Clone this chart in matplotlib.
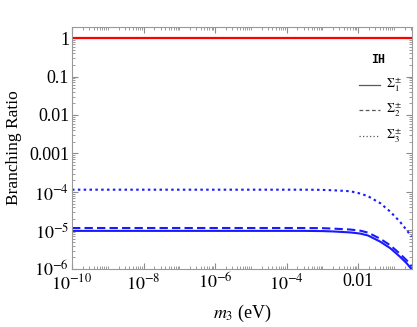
import numpy as np
import matplotlib
matplotlib.use("Agg")
import matplotlib.pyplot as plt
from matplotlib.ticker import FixedLocator, LogLocator, NullFormatter
from matplotlib.lines import Line2D

plt.rcParams['font.family'] = ['Liberation Serif', 'DejaVu Serif']
plt.rcParams['mathtext.fontset'] = 'stix'

# data
m3 = [1e-10, 1e-6, 3.16e-4, 1e-3, 2.0e-3, 6.0e-3, 1.15e-2, 1.9e-2, 4.17e-2, 7.94e-2, 0.148, 0.229, 0.316]
br_sigma1 = [9.77e-6, 9.77e-6, 9.77e-6, 9.66e-6, 9.44e-6, 8.91e-6, 8.32e-6, 7.41e-6, 5.13e-6, 3.47e-6, 2.09e-6, 1.41e-6, 0.98e-6]
br_sigma2 = [1.16e-5, 1.16e-5, 1.16e-5, 1.15e-5, 1.12e-5, 1.06e-5, 9.9e-6, 8.8e-6, 6.1e-6, 4.13e-6, 2.49e-6, 1.68e-6, 1.17e-6]
br_sigma3 = [1.148e-4, 1.148e-4, 1.148e-4, 1.135e-4, 1.109e-4, 1.047e-4, 9.12e-5, 7.76e-5, 5.13e-5, 3.09e-5, 1.70e-5, 1.02e-5, 6.9e-6]
m3_red = [1e-10, 0.32]
br_red = [1.0, 1.0]

x_ticks = [1e-10, 1e-8, 1e-6, 1e-4, 1e-2]
x_ticklabels = [r'$10^{-10}$', r'$10^{-8}$', r'$10^{-6}$', r'$10^{-4}$', '0.01']
y_ticks = [1e-6, 1e-5, 1e-4, 1e-3, 1e-2, 1e-1, 1]
y_ticklabels = [r'$10^{-6}$', r'$10^{-5}$', r'$10^{-4}$', '0.001', '0.01', '0.1', '1']
legend_labels = [r'$\Sigma_1^{\pm}$', r'$\Sigma_2^{\pm}$', r'$\Sigma_3^{\pm}$']

fig = plt.figure(figsize=(4.17, 3.27), dpi=100)
ax = fig.add_axes([0.1727, 0.1774, 0.8150, 0.7400])

blue = '#1a1aff'
ax.plot(m3_red, br_red, color='#ff0000', lw=1.6)
ax.plot(m3, br_sigma1, color=blue, lw=1.5, ls='-')
ax.plot(m3, br_sigma2, color=blue, lw=1.5, ls=(0, (4, 2)))
ax.plot(m3, br_sigma3, color=blue, lw=1.5, ls=(0, (1.2, 1.6)))

ax.set_xscale('log')
ax.set_yscale('log')
ax.set_xlim(1e-10, 0.32)
ax.set_ylim(1e-6, 1.93)

ax.xaxis.set_major_locator(FixedLocator(x_ticks))
ax.set_xticklabels(x_ticklabels)
ax.xaxis.set_minor_locator(LogLocator(base=10, subs=np.arange(1, 10), numticks=100))
ax.xaxis.set_minor_formatter(NullFormatter())
ax.yaxis.set_major_locator(FixedLocator(y_ticks))
ax.set_yticklabels(y_ticklabels)
ax.yaxis.set_minor_locator(LogLocator(base=10, subs=np.arange(2, 10), numticks=100))
ax.yaxis.set_minor_formatter(NullFormatter())

ax.tick_params(which='both', direction='in', top=True, right=True, colors='0.55',
               labelcolor='black', labelsize=13)
ax.tick_params(which='major', length=4, width=0.8)
ax.tick_params(which='minor', length=2, width=0.6)
ax.tick_params(axis='x', pad=3)
ax.tick_params(axis='y', pad=2)
for s in ax.spines.values():
    s.set_color('0.6')
    s.set_linewidth(0.8)

ax.set_xlabel(r'$m_3$ (eV)', fontsize=13, labelpad=7)
ax.set_ylabel('Branching Ratio', fontsize=12.5, labelpad=5)

# legend
ax.text(0.900, 0.864, 'IH', transform=ax.transAxes, family='Liberation Mono',
        fontweight='bold', fontsize=8.5, ha='center', va='center')
styles = ['-', (0, (3, 2)), (0, (1, 1.8))]
ys = [0.760, 0.657, 0.550]
for st, yy, lab in zip(styles, ys, legend_labels):
    ax.add_line(Line2D([0.845, 0.906], [yy, yy], transform=ax.transAxes,
                       color='0.35', lw=0.9, ls=st))
    ax.text(0.925, yy, lab, transform=ax.transAxes, fontsize=9, va='center', ha='left')

fig.savefig('out.png', dpi=100)
